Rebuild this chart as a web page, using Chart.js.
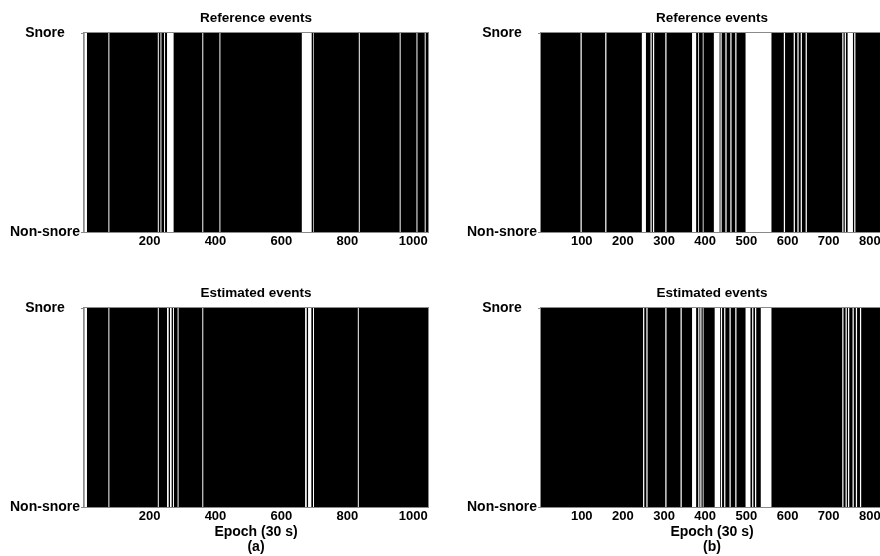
<!DOCTYPE html>
<html>
<head>
<meta charset="utf-8">
<script src="https://cdn.jsdelivr.net/npm/chart.js@4.4.1/dist/chart.umd.min.js"></script>
<style>
  html, body { margin: 0; padding: 0; background: #fff; width: 880px; height: 556px; overflow: hidden; position: relative; }
  .panel { position: absolute; }
  canvas { display: block; }
</style>
</head>
<body>
<div class="panel" style="left:0;top:0"><canvas id="refA" width="440" height="262"></canvas></div>
<div class="panel" style="left:0;top:275px"><canvas id="estA" width="440" height="281"></canvas></div>
<div class="panel" style="left:457px;top:0"><canvas id="refB" width="440" height="262"></canvas></div>
<div class="panel" style="left:457px;top:275px"><canvas id="estB" width="440" height="281"></canvas></div>
<script>
// Epoch ranges of the two recordings
const epochRangeA = [1, 1045];
const epochRangeB = [1, 832];
const tickValuesA = [200, 400, 600, 800, 1000];
const tickValuesB = [100, 200, 300, 400, 500, 600, 700, 800];
const stateLabels = ['Non-snore', 'Snore'];
const panelTitles = ['Reference events', 'Estimated events'];
const xAxisTitle = 'Epoch (30 s)';
const panelTags = ['(a)', '(b)'];

// Non-snore runs as [start epoch, end epoch]; all other epochs are snore
const referenceGapsA = [[2, 10], [75, 78], [225, 228], [233, 236], [244, 247], [253, 273], [360, 363],
  [412, 415], [662, 692], [696, 698], [835, 838], [959, 962], [1010, 1013], [1035, 1038]];
const estimatedGapsA = [[2, 10], [75, 78], [225, 228], [253, 258], [262, 267], [271, 274], [285, 288],
  [360, 363], [672, 677], [681, 691], [696, 699], [832, 835]];
const referenceGapsB = [[97, 100], [157, 160], [246, 256], [267, 270], [273, 276], [303, 306], [368, 378],
  [383, 385], [394, 396], [421, 435], [437, 440], [449, 452], [461, 464], [473, 476], [498, 561],
  [591, 594], [615, 618], [624, 627], [632, 635], [644, 647], [733, 736], [739, 742], [746, 759], [762, 765]];
const estimatedGapsB = [[249, 252], [257, 260], [303, 306], [340, 343], [368, 378], [383, 386], [388, 391],
  [394, 396], [423, 436], [438, 441], [446, 449], [459, 462], [473, 476], [498, 510], [514, 517],
  [521, 524], [535, 561], [733, 736], [741, 744], [747, 750], [758, 761], [766, 769], [776, 779]];

// Turn the non-snore runs into a stepped 0/1 state series
function stateSteps(gaps, range) {
  const pts = [{ x: range[0], y: 1 }];
  gaps.forEach(([s, e]) => { pts.push({ x: s, y: 0 }); pts.push({ x: e, y: 1 }); });
  pts.push({ x: range[1], y: 1 });
  return pts;
}

const FONT = 'Liberation Sans, Arial, Helvetica, sans-serif';

const plotFrame = {
  id: 'plotFrame',
  afterDatasetsDraw(chart) {
    const { ctx, chartArea: a } = chart;
    ctx.save();
    ctx.strokeStyle = '#8a8a8a';
    ctx.lineWidth = 1;
    ctx.strokeRect(Math.round(a.left) - 0.5, Math.round(a.top) - 0.5,
      Math.round(a.right - a.left) + 1, Math.round(a.bottom - a.top) + 1);
    ctx.restore();
  }
};

function drawPanel(id, gaps, range, ticks, title, tag, rightPad, xHeight) {
  const xTitle = tag ? { display: true, text: [xAxisTitle, tag], color: '#000',
    font: { family: FONT, size: 14, weight: 'bold', lineHeight: 1.1 }, padding: { top: 0, bottom: 1 } }
    : { display: false };
  new Chart(document.getElementById(id), {
    type: 'line',
    data: {
      datasets: [{
        data: stateSteps(gaps, range),
        stepped: true,
        fill: 'origin',
        backgroundColor: '#000',
        borderWidth: 0,
        borderColor: 'rgba(0,0,0,0)',
        pointRadius: 0,
        tension: 0
      }]
    },
    options: {
      responsive: false,
      animation: false,
      devicePixelRatio: 1,
      layout: { padding: { left: 0, right: rightPad, top: 0, bottom: 0 } },
      plugins: {
        legend: { display: false },
        tooltip: { enabled: false },
        title: { display: false }
      },
      scales: {
        x: {
          type: 'linear',
          min: range[0], max: range[1],
          afterBuildTicks: s => { s.ticks = ticks.map(v => ({ value: v })); },
          afterFit: s => { s.height = xHeight; },
          grid: { display: false, drawTicks: false },
          border: { display: false },
          ticks: {
            color: '#000', padding: 2, maxRotation: 0, autoSkip: false,
            font: { family: FONT, size: 13, weight: 'bold' },
            callback: v => String(v)
          },
          title: xTitle
        },
        // Top axis only carries the panel heading, centred over the plot
        top: {
          type: 'linear',
          position: 'top',
          min: range[0], max: range[1],
          afterFit: s => { s.height = 33; },
          grid: { display: false, drawTicks: false },
          border: { display: false },
          ticks: { display: false },
          title: {
            display: true, text: title, color: '#000',
            font: { family: FONT, size: 13.5, weight: 'bold', lineHeight: 1.2 },
            padding: { top: 10, bottom: 0 }
          }
        },
        y: {
          type: 'linear',
          min: 0, max: 1,
          afterBuildTicks: s => { s.ticks = [{ value: 0 }, { value: 1 }]; },
          afterFit: s => { s.width = 84; },
          grid: { display: true, drawOnChartArea: false, drawTicks: true, tickLength: 3, color: '#8a8a8a' },
          border: { display: false },
          ticks: {
            color: '#000', padding: 1, crossAlign: 'center', autoSkip: false,
            font: { family: FONT, size: 14, weight: 'bold' },
            callback: v => stateLabels[v]
          }
        }
      }
    },
    plugins: [plotFrame]
  });
}

drawPanel('refA', referenceGapsA, epochRangeA, tickValuesA, panelTitles[0], null, 12, 30);
drawPanel('estA', estimatedGapsA, epochRangeA, tickValuesA, panelTitles[1], panelTags[0], 12, 49);
drawPanel('refB', referenceGapsB, epochRangeB, tickValuesB, panelTitles[0], null, 14, 30);
drawPanel('estB', estimatedGapsB, epochRangeB, tickValuesB, panelTitles[1], panelTags[1], 14, 49);
</script>
</body>
</html>
